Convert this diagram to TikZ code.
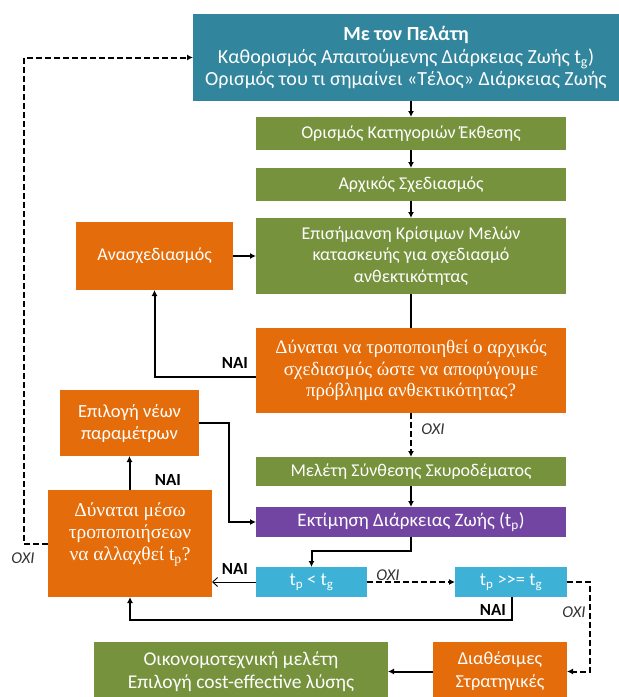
\documentclass[tikz,border=0pt]{standalone}
\usepackage{fontspec}
\setmainfont{Carlito}
\newfontfamily\serifgr{Liberation Serif}
\usetikzlibrary{arrows.meta}
\definecolor{cteal}{HTML}{31859C}
\definecolor{cgreen}{HTML}{76923C}
\definecolor{corange}{HTML}{E46C0A}
\definecolor{cpurple}{HTML}{7345A3}
\definecolor{ccyan}{HTML}{3DB1D6}
\definecolor{cgray}{HTML}{333333}
\tikzset{
  box/.style={inner sep=0pt, outer sep=0pt, text=white, align=center, font=\fontsize{18}{21.5}\selectfont},
  dbox/.style={box, font=\serifgr\fontsize{19}{21.5}\selectfont},
  conn/.style={line width=2pt, -{Latex[length=6pt,width=6pt]}},
  plain/.style={line width=2pt},
  dconn/.style={line width=2pt, dash pattern=on 6pt off 3pt, -{Latex[length=6pt,width=6pt]}},
  thin/.style={line width=0.9pt, -{Straight Barb[length=5pt,width=9pt]}},
  yes/.style={font=\bfseries\fontsize{17}{17}\selectfont, text=black, inner sep=0pt},
  no/.style={font=\itshape\fontsize{16.5}{16.5}\selectfont, text=cgray, inner sep=0pt}
}
\begin{document}
\begin{tikzpicture}[x=1pt,y=-1pt]
\useasboundingbox (0,0) rectangle (619,697);
\fill[white] (0,0) rectangle (619,697);
% boxes
\node[box, fill=cteal, minimum width=426pt, minimum height=87pt, font=\fontsize{20}{22.5}\selectfont] (top) at (406,57.5)
  {{\bfseries Με τον Πελάτη}\\Καθορισμός Απαιτούμενης Διάρκειας Ζωής t\textsubscript{g})\\Ορισμός του τι σημαίνει «Τέλος» Διάρκειας Ζωής};
\node[box, fill=cgreen, minimum width=310pt, minimum height=33pt] (g1) at (411,133.5) {Ορισμός Κατηγοριών Έκθεσης};
\node[box, fill=cgreen, minimum width=310pt, minimum height=33pt] (g2) at (411,184.5) {Αρχικός Σχεδιασμός};
\node[box, fill=cgreen, minimum width=310pt, minimum height=76pt] (g3) at (411,256)
  {Επισήμανση Κρίσιμων Μελών\\κατασκευής για σχεδιασμό\\ανθεκτικότητας};
\node[box, fill=corange, minimum width=157pt, minimum height=68pt] (red) at (154.5,256) {Ανασχεδιασμός};
\node[dbox, fill=corange, minimum width=310pt, minimum height=85pt] (d1) at (411,370.5)
  {Δύναται να τροποποιηθεί ο αρχικός\\σχεδιασμός ώστε να αποφύγουμε\\πρόβλημα ανθεκτικότητας?};
\node[box, fill=cgreen, minimum width=310pt, minimum height=29pt] (g4) at (411,471.5) {Μελέτη Σύνθεσης Σκυροδέματος};
\node[box, fill=cpurple, minimum width=310pt, minimum height=30pt, font=\fontsize{19}{21}\selectfont] (pur) at (411,522) {Εκτίμηση Διάρκειας Ζωής (t\textsubscript{p})};
\node[box, fill=corange, minimum width=139pt, minimum height=66pt, font=\fontsize{18.5}{22}\selectfont] (epi) at (129.5,423) {Επιλογή νέων\\παραμέτρων};
\node[box, fill=corange, minimum width=164pt, minimum height=107pt] (d2) at (130,543.5) {};
\node[dbox, anchor=center, font=\serifgr\fontsize{19.5}{22}\selectfont] (d2t) at (130,535) {Δύναται μέσω\\τροποποιήσεων\\να αλλαχθεί t\textsubscript{p}?};
\node[box, fill=ccyan, minimum width=111pt, minimum height=30pt, font=\fontsize{18.5}{21}\selectfont] (c1) at (311.5,582) {t\textsubscript{p} < t\textsubscript{g}};
\node[box, fill=ccyan, minimum width=112pt, minimum height=30pt, font=\fontsize{18.5}{21}\selectfont] (c2) at (511,582) {t\textsubscript{p} >\kern0pt>\kern0pt= t\textsubscript{g}};
\node[box, fill=corange, minimum width=134pt, minimum height=59pt, font=\fontsize{18.3}{23}\selectfont] (dia) at (500,671.5) {Διαθέσιμες\\Στρατηγικές};
\node[box, fill=cgreen, minimum width=294pt, minimum height=59pt, font=\fontsize{19.5}{23}\selectfont] (eco) at (241,671.5) {Οικονομοτεχνική μελέτη\\Επιλογή cost-effective λύσης};
% coordinates
\coordinate (k1) at (24,57.5);
\coordinate (j1) at (229,423);
\coordinate (j2) at (411,551);
\coordinate (j3) at (512,620);
\coordinate (j4) at (590,582);
% connectors
\draw[conn] (top.south -| g1.north) -- (g1.north);
\draw[conn] (g1.south) -- (g2.north);
\draw[conn] (g2.south) -- (g3.north);
\draw[conn] (red.east) -- (g3.west);
\draw[plain] (g3.south) -- (d1.north);
\draw[conn] ([yshift=-6.5pt]d1.west) -| (red.south);
\node[yes] (nai1) at (235,363) {NAI};
\draw[dconn] (d1.south) -- (g4.north);
\node[no] (oxi1) at (433,429) {OXI};
\draw[conn] (g4.south) -- (pur.north);
\draw[conn] (epi.east) -- (j1) |- (pur.west);
\draw[conn] (d2.north -| epi.south) -- (epi.south);
\node[yes] (nai2) at (168,480) {NAI};
\draw[dconn] (d2.west) -| (k1) -- (top.west);
\node[no] (oxi2) at (23,558) {OXI};
\draw[conn] (pur.south) -- (j2) -| (c1.north);
\draw[thin] (c1.west) -- (c1.west -| d2.east);
\node[yes] (nai3) at (235,569) {NAI};
\draw[dconn] (c1.east) -- (c2.west);
\node[no] (oxi3) at (388,575) {OXI};
\draw[conn] (c2.south -| j3) -- (j3) -| (d2.south);
\node[yes] (nai4) at (493,610) {NAI};
\draw[dconn] (c2.east) -- (j4) |- (dia.east);
\node[no] (oxi4) at (574,612) {OXI};
\draw[conn] (dia.west) -- (eco.east);
\end{tikzpicture}
\end{document}
